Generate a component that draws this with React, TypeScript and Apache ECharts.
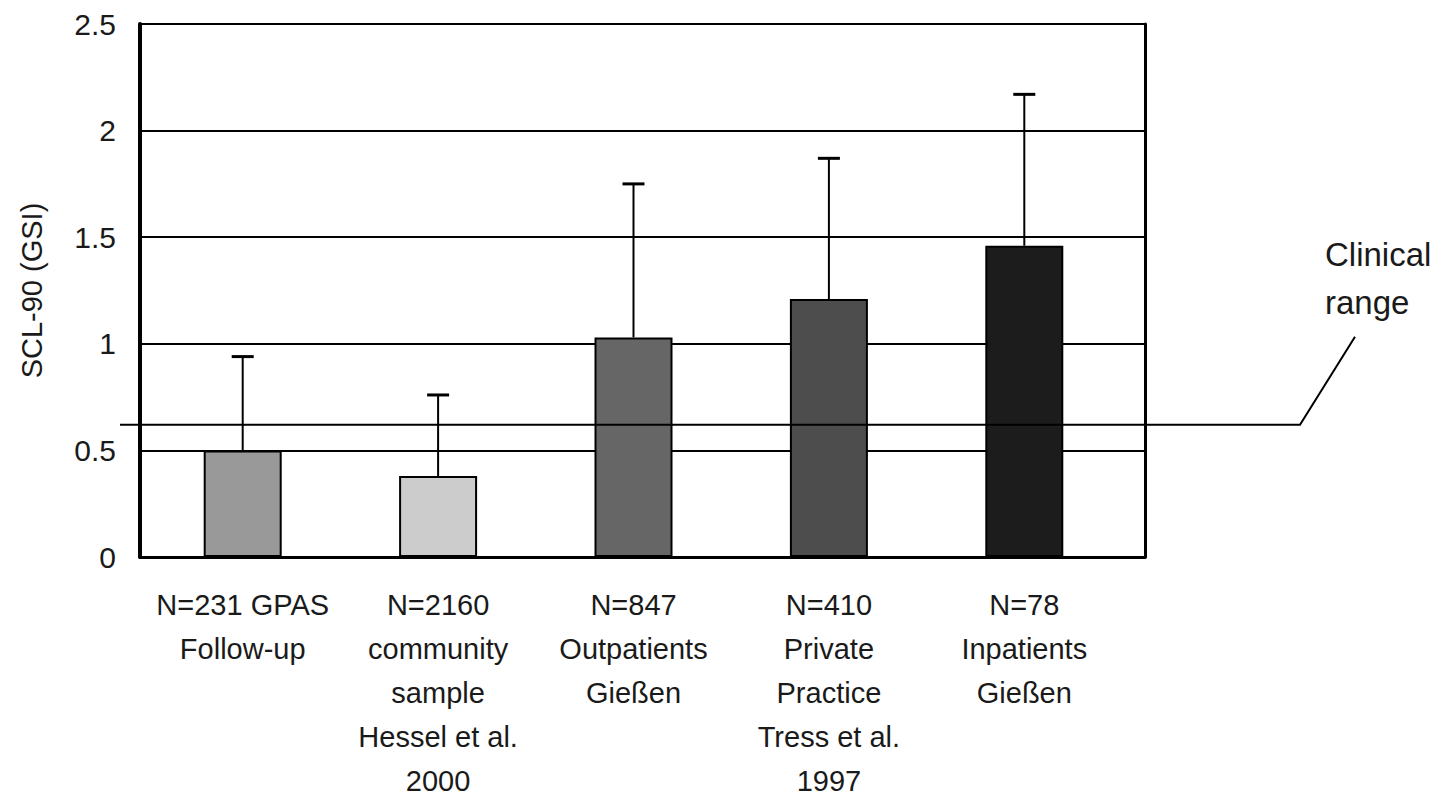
import React, { useEffect, useRef } from "react";
import * as echarts from "echarts";

const categories = [
  "N=231 GPAS\nFollow-up",
  "N=2160\ncommunity\nsample\nHessel et al.\n2000",
  "N=847\nOutpatients\nGießen",
  "N=410\nPrivate\nPractice\nTress et al.\n1997",
  "N=78\nInpatients\nGießen",
];
const means = [0.5, 0.38, 1.03, 1.21, 1.46];
const sds = [0.44, 0.38, 0.72, 0.66, 0.71];
const barColors = ["#999999", "#cccccc", "#666666", "#4d4d4d", "#1c1c1c"];
const clinicalValue = 0.62;
const clinicalLabel = ["Clinical", "range"];
const yAxisName = "SCL-90 (GSI)";
const yMin = 0;
const yMax = 2.5;
const yInterval = 0.5;

const FONT = "'Liberation Sans', Arial, Helvetica, sans-serif";

export default function App() {
  const ref = useRef<HTMLDivElement>(null);
  useEffect(() => {
    document.body.style.margin = "0";
    const chart = echarts.init(ref.current!, null, { renderer: "svg" });
    const option: any = {
      animation: false,
      backgroundColor: "#ffffff",
      textStyle: { fontFamily: FONT },
      grid: [
        { left: 140, right: 299, top: 24, bottom: 240, outerBoundsMode: "none", containLabel: false },
        { left: 145, right: 322, top: 24, bottom: 240, outerBoundsMode: "none", containLabel: false },
      ],
      xAxis: [
        {
          type: "value",
          gridIndex: 0,
          min: 0,
          max: 1,
          axisLine: { show: true, onZero: false, lineStyle: { color: "#000", width: 3 } },
          axisTick: { show: false },
          axisLabel: { show: false },
          splitLine: { show: false },
        },
        {
          type: "category",
          gridIndex: 1,
          data: categories,
          axisLine: { show: false },
          axisTick: { show: false },
          axisLabel: {
            color: "#1a1a1a",
            fontSize: 29,
            lineHeight: 44,
            margin: 26,
            fontFamily: FONT,
            interval: 0,
            align: "center",
          },
        },
      ],
      yAxis: [
        {
          type: "value",
          gridIndex: 0,
          min: yMin,
          max: yMax,
          interval: yInterval,
          name: yAxisName,
          nameLocation: "middle",
          nameGap: 94,
          nameRotate: 90,
          nameTextStyle: { color: "#1a1a1a", fontSize: 29, fontFamily: FONT },
          axisLine: { show: true, lineStyle: { color: "#000", width: 4 } },
          axisTick: { show: false },
          axisLabel: { color: "#1a1a1a", fontSize: 30, margin: 24, fontFamily: FONT },
          splitLine: { show: true, lineStyle: { color: "#000", width: 2 } },
        },
        {
          type: "value",
          gridIndex: 0,
          position: "right",
          min: yMin,
          max: yMax,
          interval: yInterval,
          axisLine: { show: true, lineStyle: { color: "#000", width: 3 } },
          axisTick: { show: false },
          axisLabel: { show: false },
          splitLine: { show: false },
        },
        {
          type: "value",
          gridIndex: 1,
          min: yMin,
          max: yMax,
          interval: yInterval,
          show: false,
        },
      ],
      series: [
        {
          type: "bar",
          xAxisIndex: 1,
          yAxisIndex: 2,
          barWidth: 78,
          data: means.map((v, i) => ({
            value: v,
            itemStyle: { color: barColors[i], borderColor: "#000", borderWidth: 2 },
          })),
          z: 3,
        },
        {
          type: "custom",
          xAxisIndex: 1,
          yAxisIndex: 2,
          z: 4,
          data: means.map((m, i) => [i, m, m + sds[i]]),
          renderItem: (params: any, api: any) => {
            const base = api.coord([api.value(0), api.value(1)]);
            const top = api.coord([api.value(0), api.value(2)]);
            const half = 11;
            const style = { stroke: "#000", lineWidth: 2 };
            return {
              type: "group",
              children: [
                { type: "line", shape: { x1: base[0], y1: base[1], x2: top[0], y2: top[1] }, style },
                { type: "line", shape: { x1: top[0] - half, y1: top[1], x2: top[0] + half, y2: top[1] }, style: { stroke: "#000", lineWidth: 3 } },
              ],
            };
          },
        },
      ],
    };
    chart.setOption(option);
    const cy = chart.convertToPixel({ yAxisIndex: 0 } as any, clinicalValue) as number;
    chart.setOption({
      graphic: [
        {
          type: "polyline",
          shape: { points: [[120, cy], [1300, cy], [1355, cy - 88]] },
          style: { stroke: "#000", lineWidth: 2, fill: null },
          z: 10,
        },
        {
          type: "text",
          x: 1325,
          y: 254,
          style: { text: clinicalLabel[0], fill: "#1a1a1a", font: `33px ${FONT}`, textVerticalAlign: "middle" },
        },
        {
          type: "text",
          x: 1325,
          y: 302,
          style: { text: clinicalLabel[1], fill: "#1a1a1a", font: `33px ${FONT}`, textVerticalAlign: "middle" },
        },
      ],
    });
    return () => chart.dispose();
  }, []);
  return (
    <div
      ref={ref}
      style={{ position: "fixed", left: 0, top: 0, width: 1444, height: 797, background: "#fff" }}
    />
  );
}
